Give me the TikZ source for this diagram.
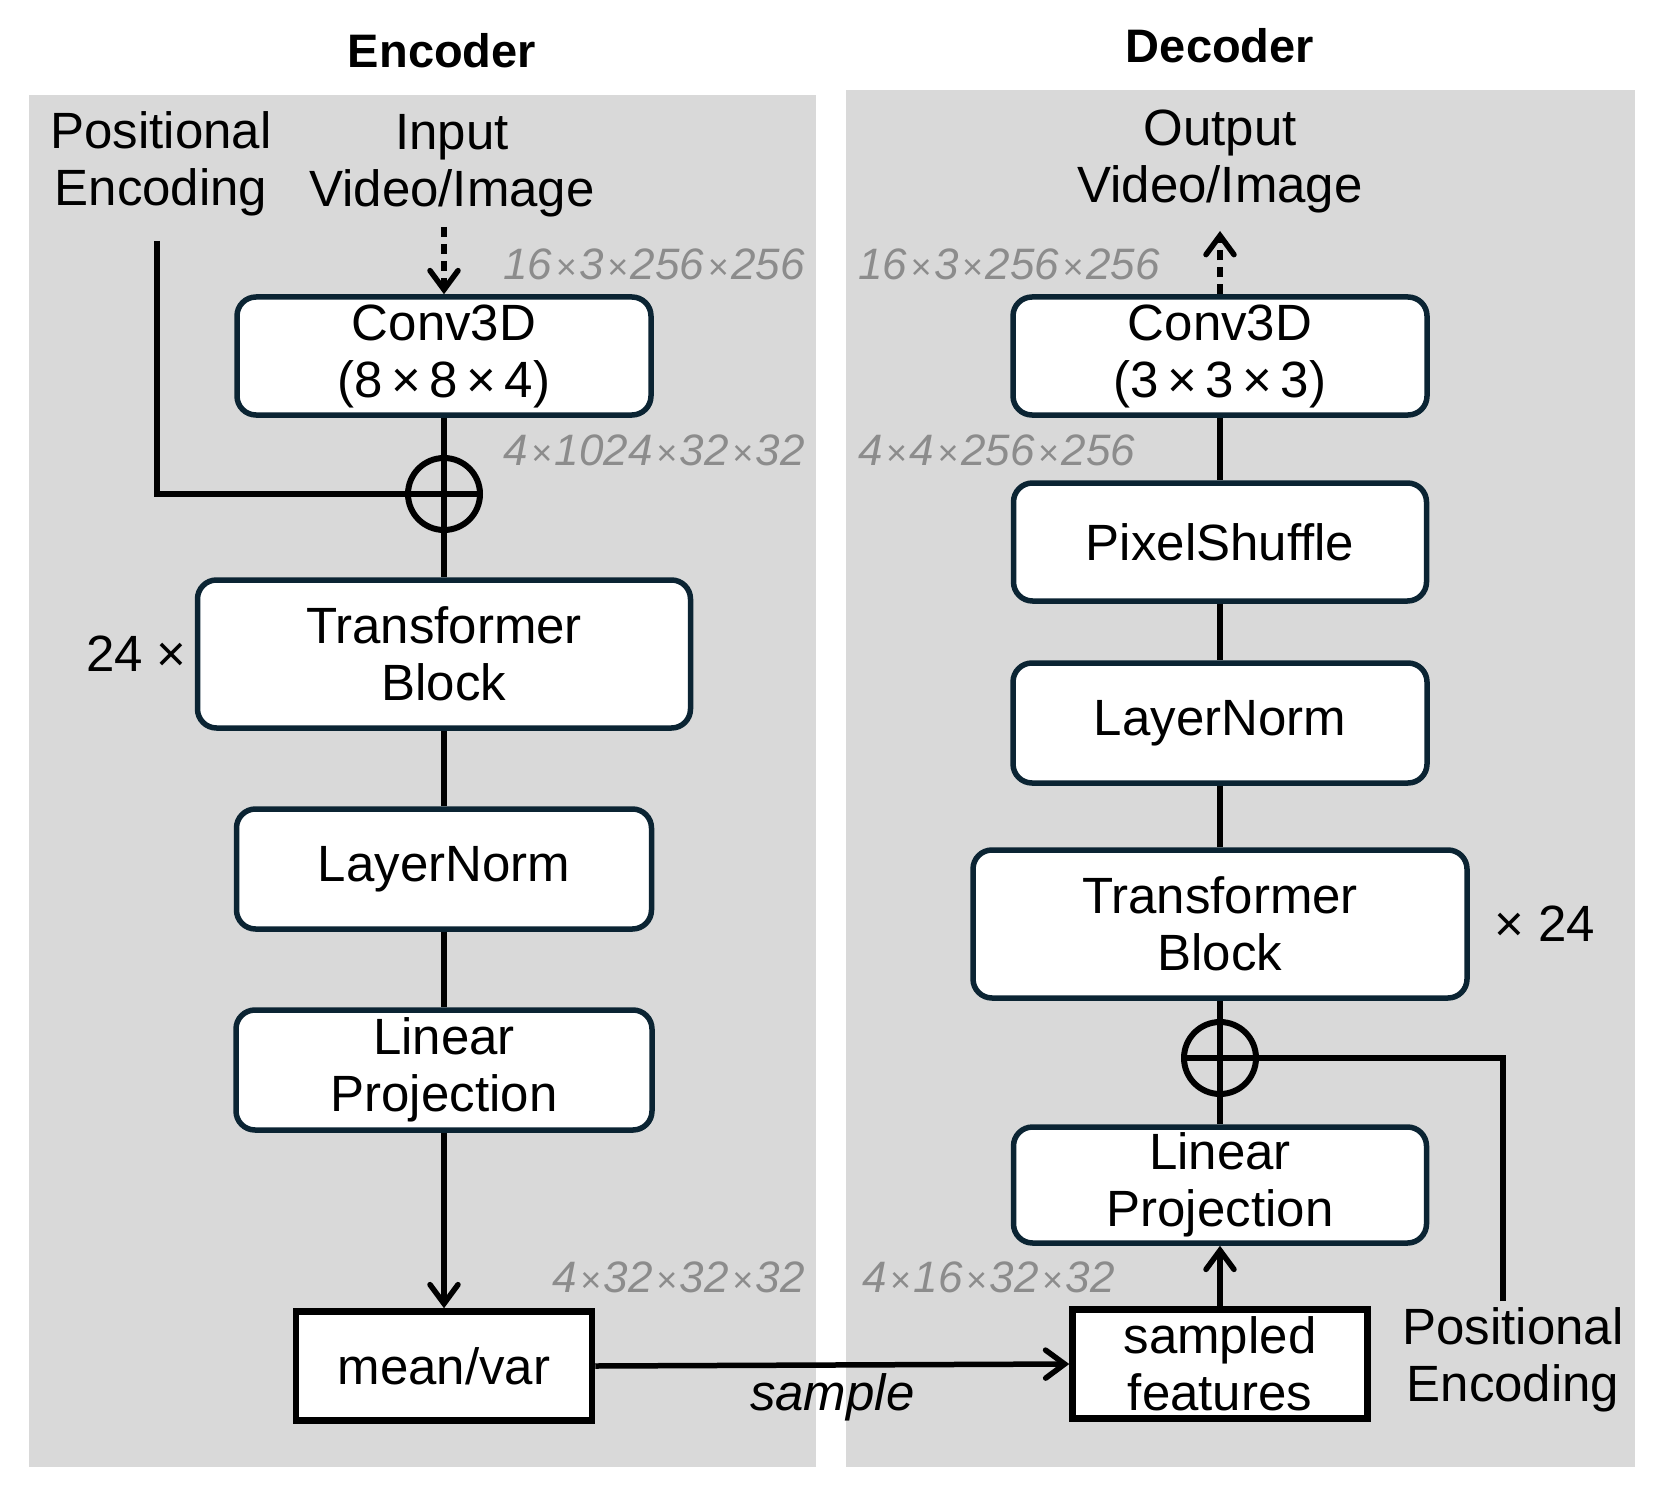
\documentclass[tikz,border=0pt]{standalone}
\usepackage{fontspec}
\setmainfont{Liberation Sans}
\usetikzlibrary{arrows.meta}
\definecolor{panelgray}{HTML}{D9D9D9}
\definecolor{navyline}{HTML}{0B2433}
\definecolor{dimgray}{HTML}{8C8C8C}
\newcommand{\mainfs}{\fontsize{51}{57}\selectfont}
\newcommand{\dimfs}{\fontsize{44}{50}\selectfont\itshape}
\newcommand{\titlefs}{\fontsize{47}{54}\selectfont\bfseries}
\newcommand{\tm}{\kern3pt{\fontsize{36}{40}\selectfont×}\kern3pt}
\tikzset{
  blk/.style={draw=navyline, line width=5.5pt, rounded corners=19pt, fill=white,
    align=center, font=\mainfs, inner sep=0pt},
  sqbox/.style={draw=black, line width=6.5pt, fill=white, align=center, font=\mainfs, inner sep=0pt},
  lbl/.style={align=center, font=\mainfs, inner sep=0pt},
  dimlbl/.style={text=dimgray, font=\dimfs, inner sep=0pt},
  conn/.style={line width=5.5pt},
  arr/.style={line width=5.5pt, -{Straight Barb[length=19pt,width=28pt,line cap=round]}},
  dasharr/.style={line width=5.5pt, dash pattern=on 10pt off 7pt, -{Straight Barb[length=19pt,width=28pt,line cap=round]}},
  plusnode/.style={circle, draw, line width=6pt, minimum size=72pt, inner sep=0pt,
    path picture={\draw[line width=5.5pt] (path picture bounding box.north) -- (path picture bounding box.south)
      (path picture bounding box.west) -- (path picture bounding box.east);}},
}
\begin{document}
\begin{tikzpicture}[x=1pt,y=-1pt]
\useasboundingbox (0,0) rectangle (1659,1487);
\fill[white] (0,0) rectangle (1659,1487);
% panels
\fill[panelgray] (28.6,95) rectangle (816,1467);
\fill[panelgray] (846,90) rectangle (1635,1467);
% titles
\node[font=\titlefs, inner sep=0pt] (enctitle) at (442,51) {Encoder};
\node[font=\titlefs, inner sep=0pt] (dectitle) at (1220,46) {Decoder};

% ---------- Encoder ----------
\node[lbl] (pe1) at (161,164) {Positional\\Encoding};
\node[lbl] (in1) at (452,166) {Input\\Video/Image};
\coordinate (in1a) at (444,227);
\coordinate (pe1a) at (157,241);
\node[blk, minimum width=414pt, minimum height=118pt] (conv1) at (444,356) {Conv3D\\(8\,×\,8\,×\,4)};
\node[plusnode] (plus1) at (444,494) {};
\node[blk, minimum width=493pt, minimum height=148pt] (tb1) at (444,654) {Transformer\\Block};
\node[blk, minimum width=415pt, minimum height=120pt] (ln1) at (444,869) {LayerNorm};
\node[blk, minimum width=416pt, minimum height=120pt] (lp1) at (444,1070) {Linear\\Projection};
\node[sqbox, minimum width=296pt, minimum height=109pt] (mv) at (444,1366) {mean/var};
\node[lbl, anchor=east] (rep1) at (187,654) {24 ×};

\node[dimlbl, anchor=east] (d1) at (805,264) {16\tm3\tm256\tm256};
\node[dimlbl, anchor=east] (d2) at (805,450) {4\tm1024\tm32\tm32};
\node[dimlbl, anchor=east] (d3) at (805,1277) {4\tm32\tm32\tm32};

\draw[dasharr] (in1a) -- (conv1.north);
\draw[conn] (conv1.south) -- (plus1.north);
\draw[conn] (plus1.south) -- (tb1.north);
\draw[conn] (pe1a) |- (plus1.west);
\draw[conn] (tb1.south) -- (ln1.north);
\draw[conn] (ln1.south) -- (lp1.north);
\draw[arr] (lp1.south) -- (mv.north);

% ---------- Decoder ----------
\node[lbl] (out2) at (1220,161) {Output\\Video/Image};
\coordinate (out2a) at (1220,231);
\node[blk, minimum width=414pt, minimum height=118pt] (conv2) at (1220,356) {Conv3D\\(3\,×\,3\,×\,3)};
\node[blk, minimum width=413pt, minimum height=118pt] (ps) at (1220,542) {PixelShuffle};
\node[blk, minimum width=414pt, minimum height=120pt] (ln2) at (1220,723) {LayerNorm};
\node[blk, minimum width=494pt, minimum height=148pt] (tb2) at (1220,924) {Transformer\\Block};
\node[plusnode] (plus2) at (1220,1058) {};
\node[blk, minimum width=413pt, minimum height=116pt] (lp2) at (1220,1185) {Linear\\Projection};
\node[sqbox, minimum width=295pt, minimum height=109pt] (sf) at (1220,1364) {sampled\\features};
\node[lbl, anchor=west] (rep2) at (1494,924) {× 24};
\node[lbl] (pe2) at (1513,1360) {Positional\\Encoding};
\coordinate (pe2a) at (1503,1301);

\node[dimlbl, anchor=west] (d4) at (858,264) {16\tm3\tm256\tm256};
\node[dimlbl, anchor=west] (d5) at (858,450) {4\tm4\tm256\tm256};
\node[dimlbl, anchor=west] (d6) at (862,1277) {4\tm16\tm32\tm32};

\draw[dasharr] (conv2.north) -- (out2a);
\draw[conn] (conv2.south) -- (ps.north);
\draw[conn] (ps.south) -- (ln2.north);
\draw[conn] (ln2.south) -- (tb2.north);
\draw[conn] (tb2.south) -- (plus2.north);
\draw[conn] (plus2.south) -- (lp2.north);
\draw[conn] (pe2a) |- (plus2.east);
\draw[arr] (sf.north) -- (lp2.south);

% sample connector
\draw[arr] (mv.east) -- node[below=6pt, font=\mainfs\itshape, inner sep=0pt] (smp) {sample} (sf.west);
\end{tikzpicture}
\end{document}
